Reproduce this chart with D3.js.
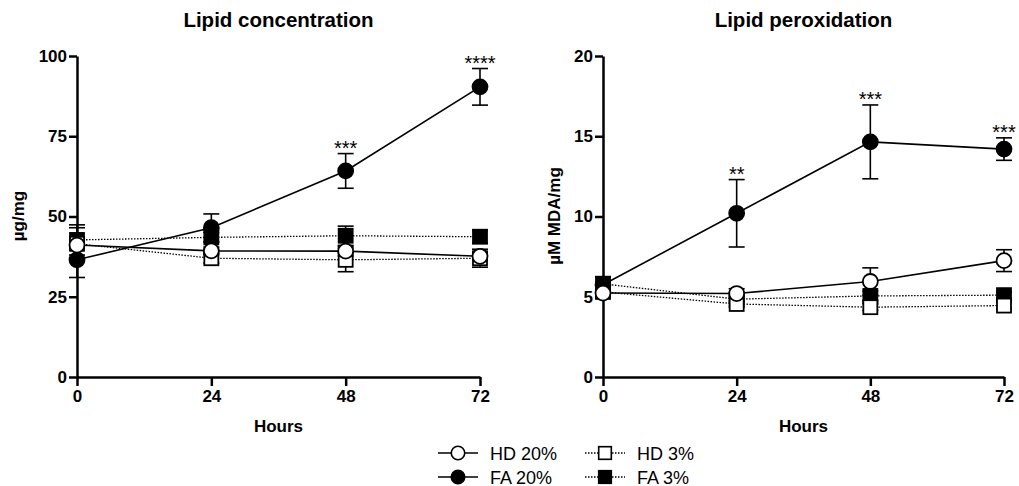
<!DOCTYPE html>
<html>
<head>
<meta charset="utf-8">
<script src="https://cdn.jsdelivr.net/npm/d3@7"></script>
<style>
    body { margin: 0; background: #fff; }
    svg { font-family: "Liberation Sans", Arial, sans-serif; }
    .axis path, .axis line { stroke: #000; stroke-width: 2.5px; }
    .axis text { font-size: 17px; font-weight: bold; fill: #000; }
</style>
</head>
<body>
<svg id="chart" width="1019" height="486"></svg>
<script>
    var hours = [0, 24, 48, 72];
    var xTicks = [0, 24, 48, 72];

    // Lipid concentration (ug/mg)
    var concTicks = [0, 25, 50, 75, 100];
    var concHD20 = [41.1, 39.3, 39.2, 37.6];
    var concHD20Err = [1.0, 1.2, 1.5, 1.2];
    var concHD3 = [41.5, 37.0, 36.5, 37.0];
    var concHD3Err = [5.0, 1.5, 3.7, 2.8];
    var concFA20 = [36.5, 46.5, 64.2, 90.4];
    var concFA20Err = [5.5, 4.3, 5.4, 5.7];
    var concFA3 = [42.7, 43.5, 44.0, 43.7];
    var concFA3Err = [4.7, 1.5, 3.0, 2.0];
    var concStars = ["", "", "***", "****"];

    // Lipid peroxidation (uM MDA/mg)
    var peroxTicks = [0, 5, 10, 15, 20];
    var peroxHD20 = [5.23, 5.2, 5.95, 7.25];
    var peroxHD20Err = [0.3, 0.3, 0.85, 0.68];
    var peroxHD3 = [5.3, 4.55, 4.35, 4.45];
    var peroxHD3Err = [0.3, 0.2, 0.2, 0.2];
    var peroxFA20 = [5.75, 10.2, 14.65, 14.2];
    var peroxFA20Err = [0.5, 2.1, 2.3, 0.7];
    var peroxFA3 = [5.8, 4.85, 5.05, 5.1];
    var peroxFA3Err = [0.45, 0.2, 0.3, 0.2];
    var peroxStars = ["", "**", "***", "***"];

    var seriesNames = ["HD 20%", "FA 20%", "HD 3%", "FA 3%"];

    var svg = d3.select("#chart");

    function series(name, vals, errs) {
        var shape = name.indexOf("3%") >= 0 ? "square" : "circle";
        var filled = name.indexOf("FA") === 0;
        return {
            name: name, shape: shape, filled: filled, dotted: shape === "square",
            points: hours.map(function (h, i) { return { x: h, y: vals[i], e: errs[i] }; })
        };
    }

    function marker(sel, s) {
        if (s.shape === "circle") {
            sel.append("circle").attr("r", 7.5);
        } else {
            sel.append("rect").attr("x", -7).attr("y", -7).attr("width", 14).attr("height", 14);
        }
        sel.selectAll("circle, rect")
            .attr("fill", s.filled ? "#000" : "#fff")
            .attr("stroke", "#000")
            .attr("stroke-width", 1.8)
        ;
    }

    function panel(opt) {
        var x = d3.scaleLinear().domain([0, 72]).range([opt.left, opt.right]);
        var y = d3.scaleLinear().domain(opt.yDomain).range([377, 56]);
        var g = svg.append("g");

        g.append("g")
            .attr("class", "axis")
            .attr("transform", "translate(0,377)")
            .call(d3.axisBottom(x).tickValues(xTicks).tickSize(9).tickSizeOuter(0).tickPadding(4))
        ;
        g.append("g")
            .attr("class", "axis")
            .attr("transform", "translate(" + opt.left + ",0)")
            .call(d3.axisLeft(y).tickValues(opt.yTicks).tickSize(8).tickSizeOuter(0).tickPadding(2))
        ;

        var line = d3.line().x(function (d) { return x(d.x); }).y(function (d) { return y(d.y); });

        opt.series.forEach(function (s) {
            var sg = g.append("g");
            s.points.forEach(function (p) {
                var eg = sg.append("g").attr("stroke", "#000").attr("stroke-width", 1.6);
                eg.append("line").attr("x1", x(p.x)).attr("x2", x(p.x)).attr("y1", y(p.y - p.e)).attr("y2", y(p.y + p.e));
                [p.y - p.e, p.y + p.e].forEach(function (v) {
                    eg.append("line").attr("x1", x(p.x) - 8).attr("x2", x(p.x) + 8).attr("y1", y(v)).attr("y2", y(v));
                });
            });
            sg.append("path")
                .datum(s.points)
                .attr("d", line)
                .attr("fill", "none")
                .attr("stroke", "#000")
                .attr("stroke-width", s.dotted ? 1.3 : 1.6)
                .attr("stroke-dasharray", s.dotted ? "1.5,1.5" : null)
            ;
            sg.selectAll("g.pt")
                .data(s.points)
                .enter().append("g")
                .attr("class", "pt")
                .attr("transform", function (d) { return "translate(" + x(d.x) + "," + y(d.y) + ")"; })
                .each(function () { marker(d3.select(this), s); })
            ;
        });

        // significance stars above the FA 20% error bars
        var fa = opt.series.filter(function (s) { return s.name === "FA 20%"; })[0];
        g.selectAll("text.star")
            .data(fa.points)
            .enter().append("text")
            .attr("class", "star")
            .attr("x", function (d) { return x(d.x); })
            .attr("y", function (d) { return y(d.y + d.e) + 1; })
            .attr("text-anchor", "middle")
            .attr("font-size", "20px")
            .text(function (d, i) { return opt.stars[i]; })
        ;

        var cx = (opt.left + opt.right) / 2;
        g.append("text")
            .attr("x", cx).attr("y", 27)
            .attr("text-anchor", "middle")
            .attr("font-size", "20.5px").attr("font-weight", "bold")
            .text(opt.title)
        ;
        g.append("text")
            .attr("x", cx).attr("y", 432)
            .attr("text-anchor", "middle")
            .attr("font-size", "17px").attr("font-weight", "bold")
            .text("Hours")
        ;
        g.append("text")
            .attr("transform", "translate(" + opt.labelX + ",216) rotate(-90)")
            .attr("text-anchor", "middle")
            .attr("font-size", "17px").attr("font-weight", "bold")
            .text(opt.yLabel)
        ;
    }

    panel({
        left: 77, right: 480, yDomain: [0, 100], yTicks: concTicks,
        title: "Lipid concentration", yLabel: "µg/mg", labelX: 24, stars: concStars,
        series: [
            series("FA 3%", concFA3, concFA3Err),
            series("HD 3%", concHD3, concHD3Err),
            series("FA 20%", concFA20, concFA20Err),
            series("HD 20%", concHD20, concHD20Err)
        ]
    });
    panel({
        left: 603, right: 1004, yDomain: [0, 20], yTicks: peroxTicks,
        title: "Lipid peroxidation", yLabel: "µM MDA/mg", labelX: 560, stars: peroxStars,
        series: [
            series("FA 3%", peroxFA3, peroxFA3Err),
            series("HD 3%", peroxHD3, peroxHD3Err),
            series("FA 20%", peroxFA20, peroxFA20Err),
            series("HD 20%", peroxHD20, peroxHD20Err)
        ]
    });

    // legend, two columns
    var legend = svg.append("g");
    seriesNames.forEach(function (name, i) {
        var s = series(name, hours, hours);
        var lx = 438 + Math.floor(i / 2) * 147;
        var ly = 453 + (i % 2) * 24;
        var item = legend.append("g").attr("transform", "translate(" + lx + "," + ly + ")");
        item.append("line")
            .attr("x1", 0).attr("x2", 40)
            .attr("stroke", "#000")
            .attr("stroke-width", s.dotted ? 1.3 : 1.6)
            .attr("stroke-dasharray", s.dotted ? "1.5,1.5" : null)
        ;
        var m = item.append("g").attr("transform", "translate(20,0) scale(0.9)");
        marker(m, s);
        item.append("text")
            .attr("x", 52).attr("y", 6.5)
            .attr("font-size", "18px")
            .text(name)
        ;
    });
</script>
</body>
</html>
